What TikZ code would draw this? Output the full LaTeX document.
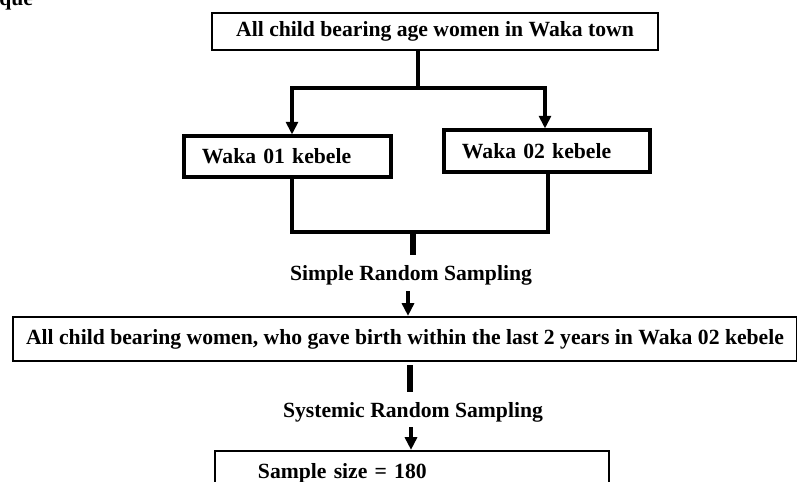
\documentclass[tikz,border=0pt]{standalone}
\usepackage{fontspec}
\setmainfont{Liberation Serif}
\usetikzlibrary{positioning}
\usetikzlibrary{arrows.meta}

\begin{document}
\begin{tikzpicture}[x=0.025cm,y=-0.025cm,line join=miter] % pixel grid of the scan
\tikzstyle{stepbox}=[draw,line width=1.6pt,shape=rectangle,inner sep=0pt,font=\fontsize{15.4}{17}\selectfont\bfseries]
\tikzstyle{conn}=[line width=2.2pt]
\tikzstyle{arr}=[line width=2.2pt,-{Triangle[length=9pt,width=8.5pt]}]
\tikzstyle{stub}=[line width=3.6pt]
\tikzstyle{lbl}=[inner sep=1pt,font=\fontsize{15.4}{17}\selectfont\bfseries]

\useasboundingbox (0,0) rectangle (797,481);
\clip (0,0) rectangle (797,481);

\draw (-1,5) node[lbl,anchor=base west,inner sep=0pt] (que) {que}; % cut-off heading

% top box
\draw (435,31.5) node[stepbox,minimum width=11.15cm,minimum height=0.925cm] (top) {All child bearing age women in Waka town};

% the two kebeles
\draw (287.5,156.5) node[stepbox,line width=2.2pt,minimum width=5.175cm,minimum height=1.025cm,text width=4.275cm,inner xsep=0.45cm,align=left] (w1) {Waka 01 kebele};
\draw (547,151) node[stepbox,line width=2.2pt,minimum width=5.15cm,minimum height=1.05cm,text width=4.25cm,inner xsep=0.45cm,align=left] (w2) {Waka 02 kebele};

% split from the top box
\coordinate (split) at (418,88);
\coordinate (lb) at (292,88);
\coordinate (rb) at (545,88);
\draw[conn] (split |- top.south) -- (split);
\draw[conn] (lb) -- (rb);
\draw[arr] ([yshift=1.1pt]lb) -- (lb |- w1.north);
\draw[arr] ([yshift=1.1pt]rb) -- (rb |- w2.north);

% join under the kebeles
\coordinate (jl) at (292,232);
\coordinate (jr) at (548,232);
\coordinate (join) at (413,232);
\coordinate (joinend) at (413,255);
\draw[conn] (jl |- w1.south) -- (jl) -- (jr) -- (jr |- w2.south);
\draw[stub] (join) -- (joinend);

\draw (411,275) node[lbl] (srs) {Simple Random Sampling};

% women who gave birth
\draw (405,339) node[stepbox,minimum width=19.6cm,minimum height=1.1cm] (big) {All child bearing women, who gave birth within the last 2 years in Waka 02 kebele};
\coordinate (srsarr) at (408,291);
\draw[arr] (srsarr) -- (srsarr |- big.north);

\coordinate (bigstart) at (410,365);
\coordinate (bigend) at (410,392);
\draw[stub] (bigstart) -- (bigend);

\draw (413,412) node[lbl] (sys) {Systemic Random Sampling};

% sample size
\draw (412,473) node[stepbox,minimum width=9.85cm,minimum height=1.1cm,text width=7.7cm,inner xsep=1.075cm,align=left] (sample) {Sample size = 180};
\coordinate (sysarr) at (411,427);
\draw[arr] (sysarr) -- (sysarr |- sample.north);
\end{tikzpicture}
\end{document}
